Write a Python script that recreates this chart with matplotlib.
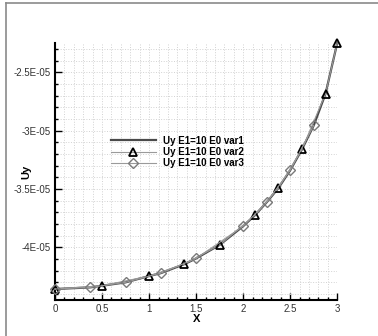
import matplotlib.pyplot as plt
import numpy as np
from matplotlib.lines import Line2D
from matplotlib.ticker import MultipleLocator, FixedLocator, FixedFormatter

# Uy along X, three runs of the same case (E1=10, E0)
x_var1 = [0, 0.375, 0.5, 0.75, 1.0, 1.125, 1.375, 1.5, 1.75, 2.0, 2.125,
          2.25, 2.375, 2.5, 2.625, 2.75, 2.875, 3.0]
uy_var1 = [-4.356e-5, -4.342e-5, -4.328e-5, -4.299e-5, -4.245e-5, -4.220e-5,
           -4.143e-5, -4.094e-5, -3.978e-5, -3.818e-5, -3.724e-5, -3.613e-5,
           -3.491e-5, -3.339e-5, -3.160e-5, -2.955e-5, -2.684e-5, -2.248e-5]

x_var2 = [0, 0.5, 1.0, 1.375, 1.75, 2.125, 2.375, 2.625, 2.875, 3.0]
uy_var2 = [-4.356e-5, -4.328e-5, -4.245e-5, -4.143e-5, -3.978e-5, -3.724e-5,
           -3.491e-5, -3.160e-5, -2.684e-5, -2.248e-5]

x_var3 = [0, 0.375, 0.75, 1.125, 1.5, 2.0, 2.25, 2.5, 2.75]
uy_var3 = [-4.356e-5, -4.342e-5, -4.299e-5, -4.220e-5, -4.094e-5, -3.818e-5,
           -3.613e-5, -3.339e-5, -2.955e-5]

labels = ['Uy E1=10 E0 var1', 'Uy E1=10 E0 var2', 'Uy E1=10 E0 var3']
x_ticks = [0, 0.5, 1, 1.5, 2, 2.5, 3]
x_ticklabels = ['0', '0.5', '1', '1.5', '2', '2.5', '3']
y_ticks = [-4e-5, -3.5e-5, -3e-5, -2.5e-5]
y_ticklabels = ['-4E-05', '-3.5E-05', '-3E-05', '-2.5E-05']

plt.rcParams['font.family'] = ['Liberation Sans', 'DejaVu Sans']

fig = plt.figure(figsize=(3.78, 3.36), dpi=100)
ax = fig.add_axes([55 / 378, 36 / 336, 282.3 / 378, 257 / 336])

# page frame (left and top edges only)
fig.add_artist(Line2D([6 / 378, 6 / 378], [0, 1 - 3 / 336], color='#8a8a8a', lw=1.2))
fig.add_artist(Line2D([6 / 378, 1], [1 - 3 / 336, 1 - 3 / 336], color='#8a8a8a', lw=1.2))

ax.plot(x_var1, uy_var1, color='#4a4a4a', lw=1.6, label=labels[0], zorder=3,
        clip_on=False)
ax.plot(x_var2, uy_var2, color='#9a9a9a', lw=0.8, marker='^', markersize=6,
        markerfacecolor='none', markeredgecolor='black', markeredgewidth=1.3,
        label=labels[1], zorder=4, clip_on=False)
ax.plot(x_var3, uy_var3, color='#9a9a9a', lw=0.8, marker='D', markersize=5,
        markerfacecolor='none', markeredgecolor='#7a7a7a', markeredgewidth=1.0,
        label=labels[2], zorder=4, clip_on=False)

ax.set_xlim(0, 3)
ax.set_ylim(-4.45e-5, -2.25e-5)

ax.xaxis.set_major_locator(FixedLocator(x_ticks))
ax.xaxis.set_major_formatter(FixedFormatter(x_ticklabels))
ax.xaxis.set_minor_locator(MultipleLocator(0.1))
ax.yaxis.set_major_locator(FixedLocator(y_ticks))
ax.yaxis.set_major_formatter(FixedFormatter(y_ticklabels))
ax.yaxis.set_minor_locator(MultipleLocator(1e-6))

ax.grid(True, which='both', color='#d2d2d2', linestyle=':', lw=0.7, zorder=0)
ax.set_axisbelow(True)

for side in ['top', 'right']:
    ax.spines[side].set_visible(False)
for side in ['left', 'bottom']:
    ax.spines[side].set_linewidth(1.5)

ax.tick_params(which='both', direction='in', top=False, right=False,
               labelsize=7, labelcolor='#333333', width=1)
ax.tick_params(which='major', length=5, pad=3)
ax.tick_params(which='minor', length=2.5)

ax.set_xlabel('X', fontsize=8, fontweight='bold', va='center', ha='center')
ax.set_ylabel('Uy', fontsize=8, fontweight='bold', va='center', ha='center')
ax.xaxis.set_label_coords(0.503, -0.074)
ax.yaxis.set_label_coords(-0.103, 0.498)

ax.legend(loc='center left', bbox_to_anchor=((111 - 55) / 282.3, (300 - 152) / 257),
          frameon=False, prop={'weight': 'bold', 'size': 7},
          handlelength=4.6, handletextpad=0.7, labelspacing=0.15,
          borderpad=0, borderaxespad=0, numpoints=1)

fig.savefig('out.png', dpi=100)
